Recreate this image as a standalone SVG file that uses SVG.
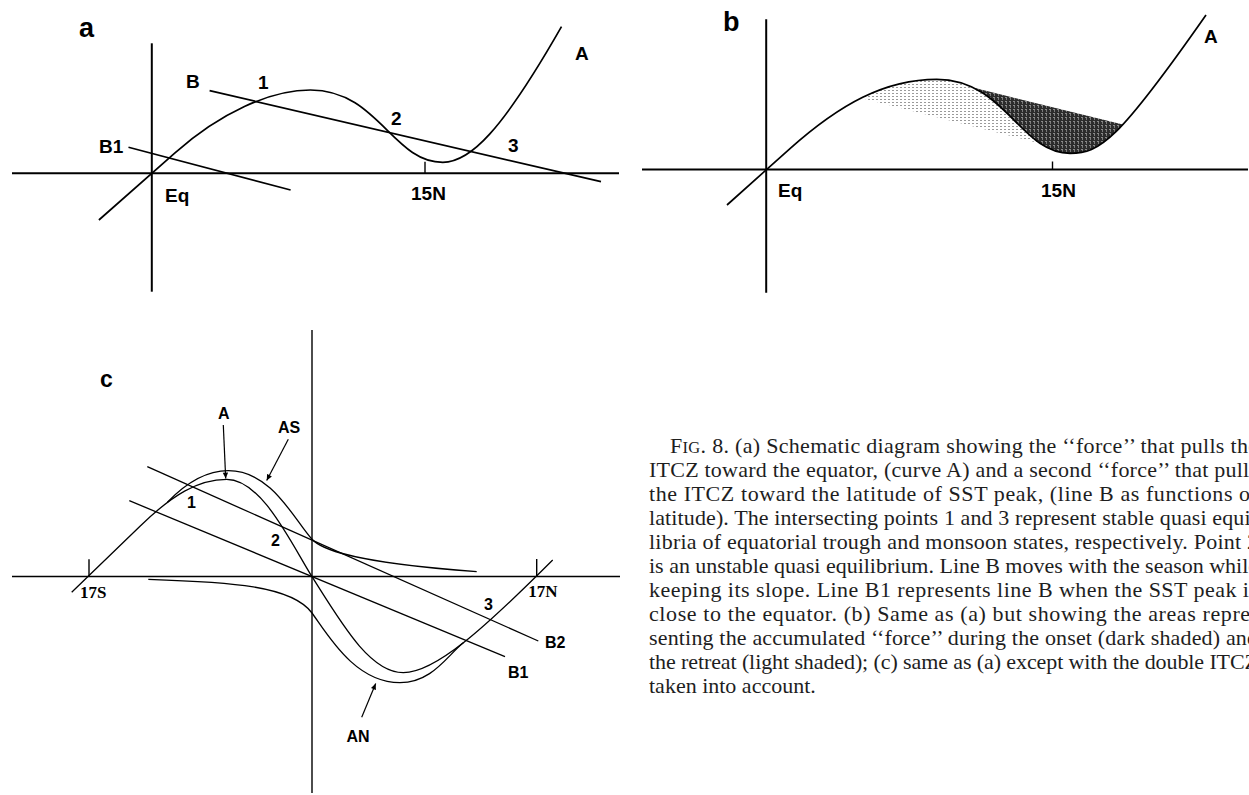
<svg xmlns="http://www.w3.org/2000/svg" width="1249" height="795" viewBox="0 0 1249 795">
<style>
.ax{stroke:#000;stroke-width:2;fill:none}
.axc{stroke:#000;stroke-width:1.4;fill:none}
.cv{stroke:#000;stroke-width:1.7;fill:none;stroke-linejoin:round}
.cvc{stroke:#000;stroke-width:1.3;fill:none;stroke-linejoin:round}
.lb{font-family:"Liberation Sans",Arial,sans-serif;font-weight:bold;fill:#000}
.lbs{font-family:"Liberation Serif","Times New Roman",serif;font-weight:bold;fill:#000;font-size:17px}
.cap{font-family:"Liberation Serif","Times New Roman",serif;font-size:22px;fill:#1e1e1e}
.arr{stroke:#000;stroke-width:1.2;fill:none}
</style>
<defs>
<marker id="ah" viewBox="0 0 10 10" refX="10" refY="5" markerWidth="7" markerHeight="6" markerUnits="userSpaceOnUse" orient="auto"><path d="M0,0.5 L10,5 L0,9.5 Z" fill="#000"/></marker>
<pattern id="light" width="4" height="3" patternUnits="userSpaceOnUse"><rect width="4" height="3" fill="#fff"/><rect x="0" y="0" width="2" height="1" fill="#9a9a9a"/></pattern>
<pattern id="dark" width="4" height="4" patternUnits="userSpaceOnUse"><rect width="4" height="4" fill="#2c2c2c"/><rect x="1" y="1" width="2" height="1" fill="#8a8a8a"/><rect x="2" y="2" width="1" height="2" fill="#7a7a7a"/></pattern>
<clipPath id="clipAbove"><path d="M727,205 L790,148.6 C840,104 885,79.3 936.7,79.3 C1005,79.3 1020,153.3 1070,153.3 C1100,153.3 1118,141 1206,15 L1249,15 L1249,-10 L700,-10 L700,205 Z"/></clipPath>
<clipPath id="clipBelow"><path d="M727,205 L790,148.6 C840,104 885,79.3 936.7,79.3 C1005,79.3 1020,153.3 1070,153.3 C1100,153.3 1118,141 1206,15 L1249,15 L1249,300 L700,300 L700,205 Z"/></clipPath>
</defs>
<rect width="1249" height="795" fill="#fff"/>

<g id="panel-a">
<text class="lb" x="79" y="37" font-size="27">a</text>
<line class="ax" x1="151.8" y1="43.3" x2="151.8" y2="291.7"/>
<line class="ax" x1="12" y1="173.3" x2="619" y2="173.3"/>
<line class="ax" x1="425" y1="161.7" x2="425" y2="173.3" style="stroke-width:1.4"/>
<path id="a-curveA" class="cv" d="M98.9,220 L175,152.8 C220,113 270,90 310.4,90 C377.9,90 392.5,162.3 442.8,162.3 C470,162.3 501.5,131.7 561.5,26.7"/>
<line id="a-lineB" class="cv" x1="209.6" y1="90.7" x2="601" y2="181.7"/>
<line id="a-lineB1" class="cv" x1="128.5" y1="147.3" x2="290.6" y2="190"/>
<g font-size="19">
<text class="lb" x="186" y="88.3">B</text>
<text class="lb" x="258" y="89.3">1</text>
<text class="lb" x="391" y="125">2</text>
<text class="lb" x="508" y="151.7">3</text>
<text class="lb" x="575" y="60">A</text>
<text class="lb" x="99" y="153.3">B1</text>
<text class="lb" x="165" y="201.7">Eq</text>
<text class="lb" x="411" y="200">15N</text>
</g>
</g>

<g id="panel-b">
<text class="lb" x="723" y="30.7" font-size="27">b</text>
<g id="b-shading">
<polygon points="850,0 1050,0 1050,146 850,95.2" fill="url(#light)" clip-path="url(#clipBelow)"/>
<polygon points="975,88.1 1130,126.3 1130,300 975,300" fill="url(#dark)" clip-path="url(#clipAbove)"/>
</g>
<line class="ax" x1="766.2" y1="19.3" x2="766.2" y2="292.7"/>
<line class="ax" x1="642" y1="169.5" x2="1248" y2="169.5"/>
<line class="ax" x1="1052.5" y1="161.5" x2="1052.5" y2="169.5" style="stroke-width:1.4"/>
<path id="b-curveA" class="cv" d="M727,205 L790,148.6 C840,104 885,79.3 936.7,79.3 C1005,79.3 1020,153.3 1070,153.3 C1100,153.3 1118,141 1206,15"/>
<g font-size="19">
<text class="lb" x="778" y="197">Eq</text>
<text class="lb" x="1041" y="197">15N</text>
<text class="lb" x="1204" y="43">A</text>
</g>
</g>

<g id="panel-c">
<text class="lb" x="100" y="387" font-size="23">c</text>
<line class="axc" x1="312" y1="330" x2="312" y2="793"/>
<line class="axc" x1="12" y1="576.5" x2="620" y2="576.5"/>
<line class="axc" x1="89" y1="559.3" x2="89" y2="576.5"/>
<line class="axc" x1="536.7" y1="559" x2="536.7" y2="576.5"/>
<path id="c-curveA" class="cvc" d="M71.7,592.3 L140,526.3 C172,495 198,479.3 226.7,479.3 C262,479.3 292,545 312,576.7 C342,624.2 370,672.7 403.3,672.7 C435,672.7 482.7,630 552.7,560"/>
<path id="c-curveAS" class="cvc" d="M167.4,502.3 C185,484 205,470.7 228.3,470.7 C272,470.7 294,519.7 312,539.3 C320,548 345,562 476.7,571.7"/>
<path id="c-curveAN" class="cvc" d="M148.3,579.3 C230,582 292,585.5 312,613 C328,635 355,682.7 400,682.7 C432,682.7 447,655.7 463.6,642.6"/>
<line id="c-lineB2" class="cvc" x1="147.3" y1="466.7" x2="538.3" y2="641"/>
<line id="c-lineB1" class="cvc" x1="129.3" y1="500.7" x2="505" y2="656.7"/>
<g font-size="16">
<text class="lb" x="218" y="419.3">A</text>
<text class="lb" x="278" y="432.7">AS</text>
<text class="lb" x="187" y="508.3">1</text>
<text class="lb" x="271" y="546">2</text>
<text class="lb" x="484" y="610">3</text>
<text class="lb" x="545" y="648.3">B2</text>
<text class="lb" x="508" y="678.3">B1</text>
<text class="lb" x="346.5" y="741.7">AN</text>
</g>
<text class="lbs" x="80" y="598.3">17S</text>
<text class="lbs" x="528.3" y="596.7">17N</text>
</g>

<g id="connectors">
<line class="arr" x1="223.3" y1="425" x2="225.7" y2="478.5" marker-end="url(#ah)"/>
<line class="arr" x1="288.3" y1="439.3" x2="266.7" y2="480.5" marker-end="url(#ah)"/>
<line class="arr" x1="361.7" y1="717.3" x2="375.7" y2="683.5" marker-end="url(#ah)"/>
</g>

<g id="caption" class="cap">
<text x="670" y="452.7" textLength="588" lengthAdjust="spacing">F<tspan font-size="16.5">IG</tspan>. 8. (a) Schematic diagram showing the ‘‘force’’ that pulls the</text>
<text x="649" y="476.7" textLength="609" lengthAdjust="spacing">ITCZ toward the equator, (curve A) and a second ‘‘force’’ that pulls</text>
<text x="649" y="500.7" textLength="609" lengthAdjust="spacing">the ITCZ toward the latitude of SST peak, (line B as functions of</text>
<text x="649" y="524.7" textLength="609" lengthAdjust="spacing">latitude). The intersecting points 1 and 3 represent stable quasi equi-</text>
<text x="649" y="548.7" textLength="609" lengthAdjust="spacing">libria of equatorial trough and monsoon states, respectively. Point 2</text>
<text x="649" y="572.7" textLength="609" lengthAdjust="spacing">is an unstable quasi equilibrium. Line B moves with the season while</text>
<text x="649" y="596.7" textLength="609" lengthAdjust="spacing">keeping its slope. Line B1 represents line B when the SST peak is</text>
<text x="649" y="620.7" textLength="609" lengthAdjust="spacing">close to the equator. (b) Same as (a) but showing the areas repre-</text>
<text x="649" y="644.7" textLength="609" lengthAdjust="spacing">senting the accumulated ‘‘force’’ during the onset (dark shaded) and</text>
<text x="649" y="668.7" textLength="609" lengthAdjust="spacing">the retreat (light shaded); (c) same as (a) except with the double ITCZ</text>
<text x="649" y="692.7">taken into account.</text>
</g>
</svg>
